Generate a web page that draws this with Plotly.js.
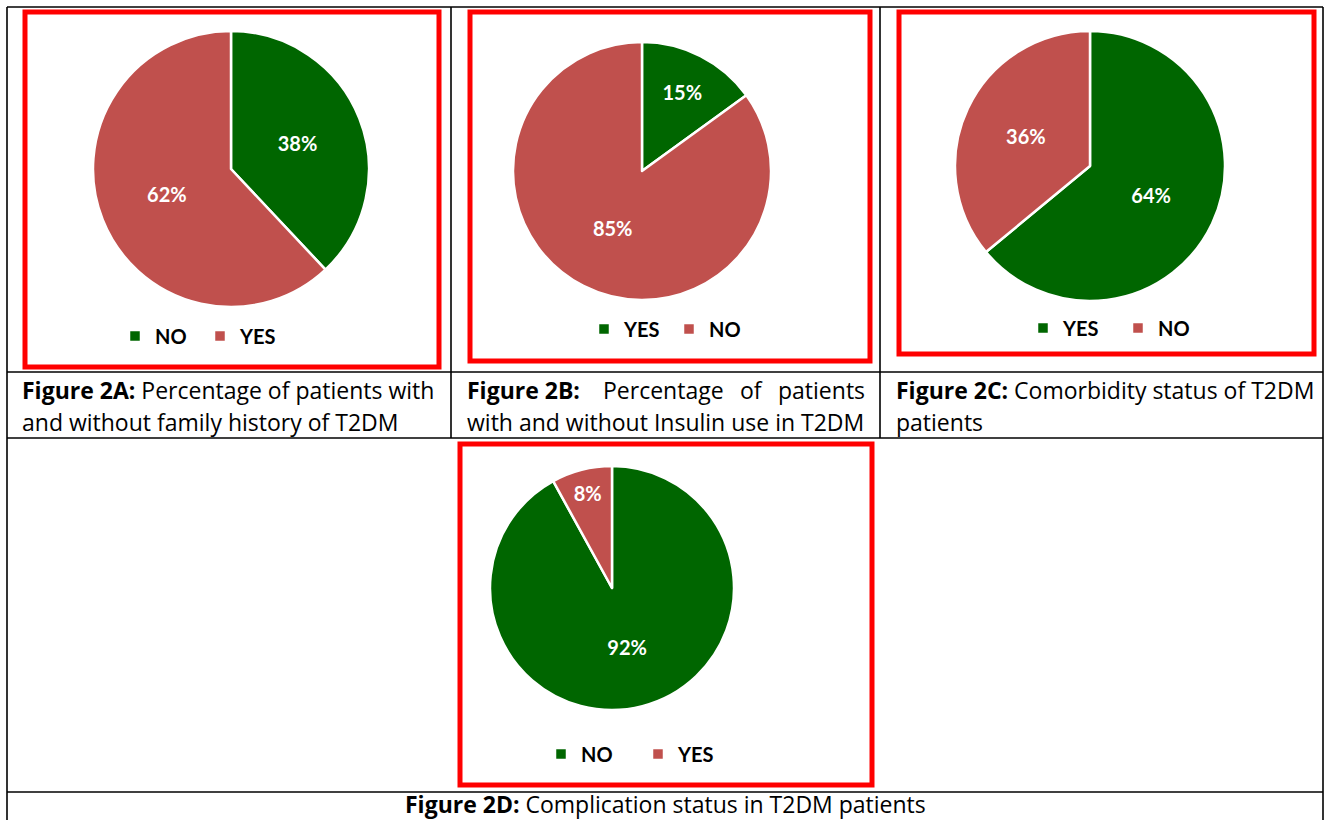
<!DOCTYPE html>
<html>
<head>
<meta charset="utf-8">
<script src="https://cdn.plot.ly/plotly-3.0.1.min.js"></script>
<style>
  html, body { margin: 0; padding: 0; background: #ffffff; }
  #chart { width: 1325px; height: 820px; }
</style>
</head>
<body>
<div id="chart"></div>
<script>
// ---- Data ----
const figA_labels = ['NO', 'YES'];
const figA_values = [38, 62];
const figB_labels = ['YES', 'NO'];
const figB_values = [15, 85];
const figC_labels = ['YES', 'NO'];
const figC_values = [64, 36];
const figD_labels = ['NO', 'YES'];
const figD_values = [92, 8];

const GREEN = '#006600';
const RED = '#C0504D';
const FONT = 'Lato, "Open Sans", sans-serif';
const CAPFONT = '"Open Sans", Lato, sans-serif';

const W = 1325, H = 820;
const px = x => x / W;
const py = y => 1 - y / H;

function pieTrace(labels, values, cx, cy, r, legendId, group) {
  return {
    type: 'pie',
    labels: labels,
    values: values,
    sort: false,
    direction: 'clockwise',
    rotation: 0,
    marker: { colors: [GREEN, RED], line: { color: '#ffffff', width: 2.5 } },
    textinfo: 'percent',
    textposition: 'inside',
    insidetextorientation: 'horizontal',
    textfont: { family: FONT, size: 20, color: '#ffffff', weight: 'bold' },
    hoverinfo: 'label+percent',
    domain: { x: [px(cx - r), px(cx + r)], y: [py(cy + r), py(cy - r)] },
    legend: legendId,
    legendgroup: group,
    showlegend: true
  };
}

const data = [
  pieTrace(figA_labels, figA_values, 231, 169, 138, 'legend', 'A'),
  pieTrace(figB_labels, figB_values, 642, 171, 129, 'legend2', 'B'),
  pieTrace(figC_labels, figC_values, 1090, 166, 135, 'legend3', 'C'),
  pieTrace(figD_labels, figD_values, 612, 588, 122, 'legend4', 'D')
];

function legendAt(cx, cy, ew) {
  return {
    orientation: 'h',
    x: px(cx), xanchor: 'center',
    y: py(cy), yanchor: 'middle',
    font: { family: FONT, size: 20, color: '#000000', weight: 'bold' },
    entrywidth: ew, entrywidthmode: 'pixels',
    bgcolor: 'rgba(0,0,0,0)',
    traceorder: 'normal'
  };
}

const BLACK = '#000000';
function hline(x0, x1, y) {
  return { type: 'line', xref: 'paper', yref: 'paper', x0: px(x0), x1: px(x1), y0: py(y), y1: py(y), line: { color: BLACK, width: 1.6 } };
}
function vline(x, y0, y1) {
  return { type: 'line', xref: 'paper', yref: 'paper', x0: px(x), x1: px(x), y0: py(y0), y1: py(y1), line: { color: BLACK, width: 1.6 } };
}
function redBox(x0, y0, x1, y1) {
  return { type: 'rect', xref: 'paper', yref: 'paper', x0: px(x0), x1: px(x1), y0: py(y1), y1: py(y0), line: { color: '#FF0000', width: 5 }, fillcolor: 'rgba(0,0,0,0)' };
}

const shapes = [
  // table grid
  hline(7, 1323, 7),
  hline(7, 1323, 372),
  hline(7, 1323, 438),
  hline(7, 1323, 792),
  vline(7, 7, 830),
  vline(1323, 7, 830),
  vline(451, 7, 438),
  vline(880, 7, 438),
  // red frames
  redBox(25, 12, 439, 367),
  redBox(470, 12, 870, 361),
  redBox(899, 12, 1314, 354),
  redBox(460, 444, 872, 785)
];

function cap(text, x, y, anchor) {
  return {
    xref: 'paper', yref: 'paper', x: px(x), y: py(y),
    xanchor: anchor || 'left', yanchor: 'middle',
    text: text, showarrow: false,
    font: { family: CAPFONT, size: 23, color: '#000000' }
  };
}

const annotations = [
  cap('<b>Figure 2A:</b> Percentage of patients with', 20, 390),
  cap('and without family history of T2DM', 20, 422),
  cap('<b>Figure 2B:</b>', 465, 390),
  cap('Percentage', 601, 390),
  cap('of', 738, 390),
  cap('patients', 867, 390, 'right'),
  cap('with and without Insulin use in T2DM', 465, 422),
  cap('<b>Figure 2C:</b> Comorbidity status of T2DM', 894, 390),
  cap('patients', 894, 422),
  cap('<b>Figure 2D:</b> Complication status in T2DM patients', 665, 804, 'center')
];

const layout = {
  width: W, height: H,
  margin: { l: 0, r: 0, t: 0, b: 0 },
  paper_bgcolor: '#ffffff',
  plot_bgcolor: '#ffffff',
  font: { family: FONT },
  legend: legendAt(200, 336, 40),
  legend2: legendAt(669, 329, 40),
  legend3: legendAt(1118, 328, 50),
  legend4: legendAt(638, 754, 52),
  shapes: shapes,
  annotations: annotations
};

Plotly.newPlot('chart', data, layout, { displayModeBar: false, staticPlot: true });
</script>
</body>
</html>
